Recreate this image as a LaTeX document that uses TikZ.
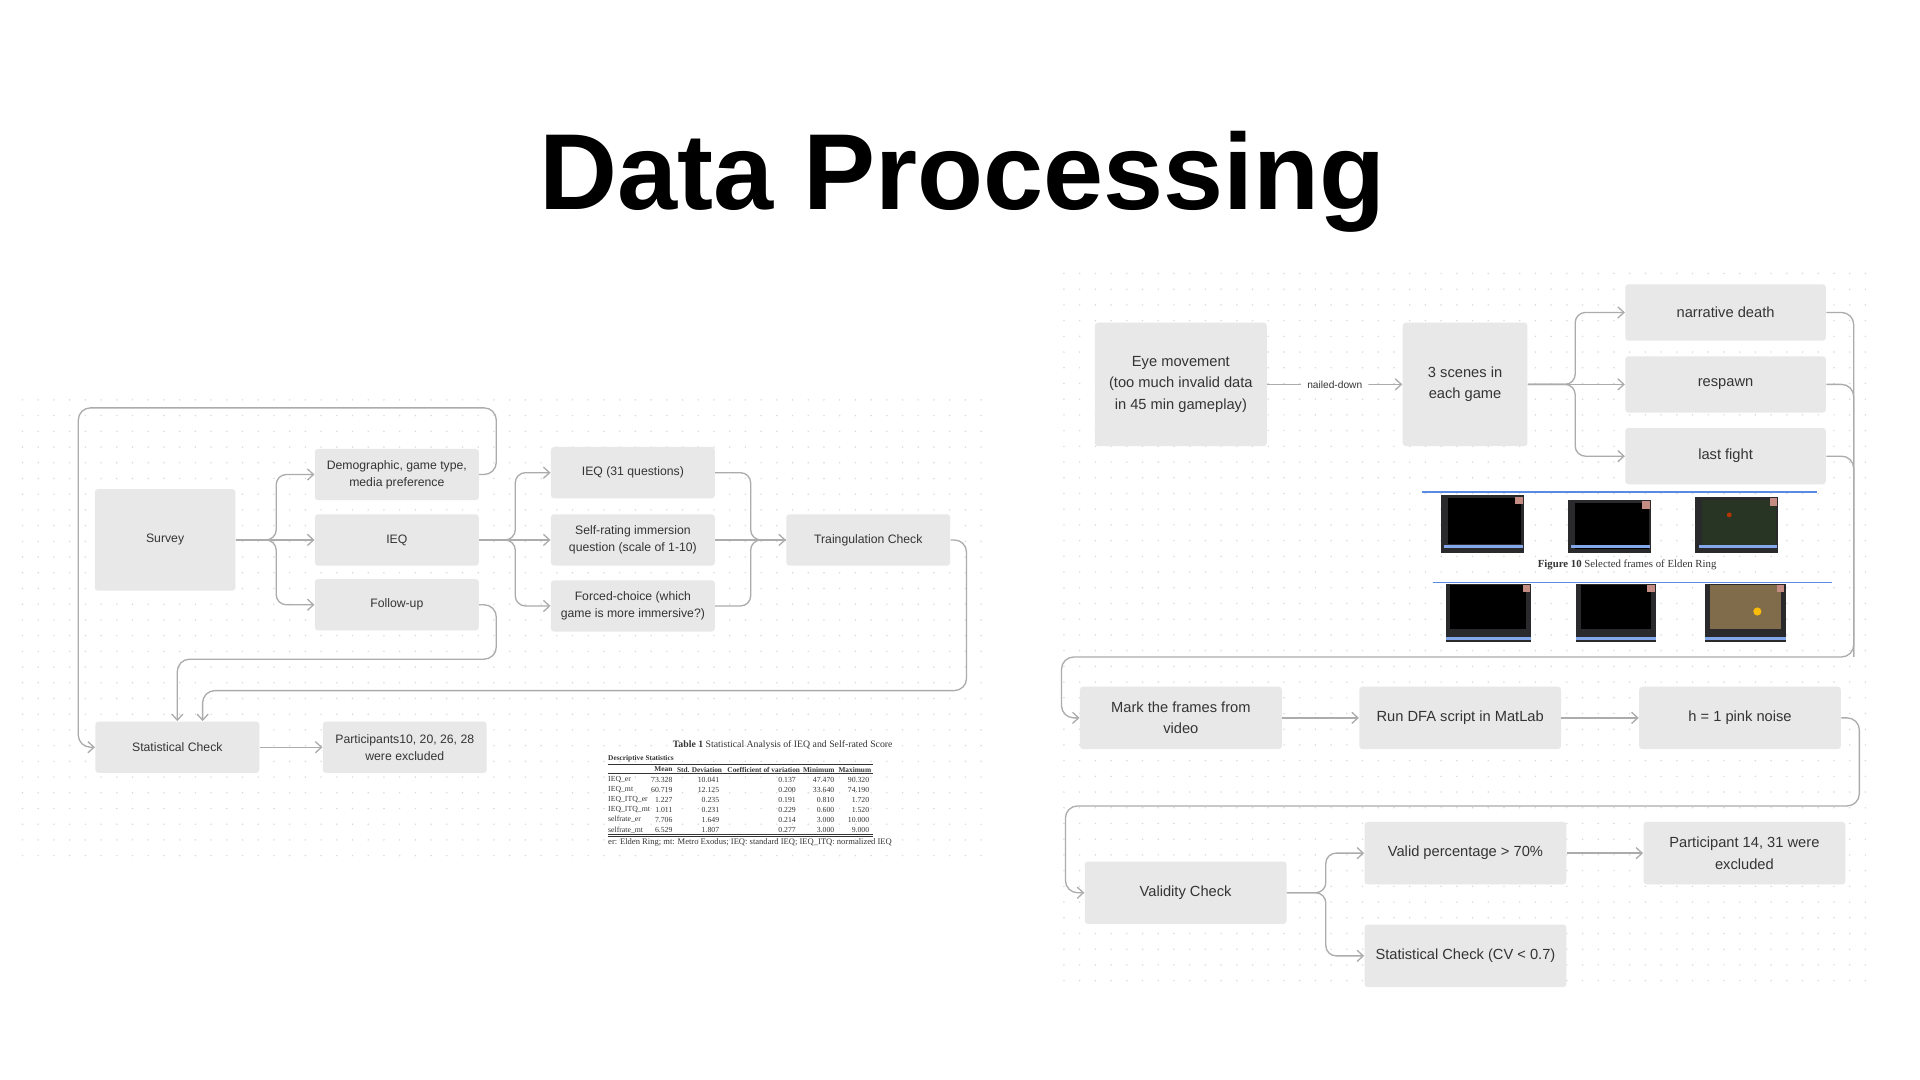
\documentclass[tikz,border=0pt]{standalone}
\usepackage{fontspec}
\setmainfont{Liberation Sans}
\newfontfamily\tabserif{Liberation Serif}
\usepackage{tikz}
\usetikzlibrary{arrows.meta,calc}
\definecolor{boxgray}{RGB}{232,232,232}
\definecolor{linegray}{RGB}{172,172,172}
\definecolor{dotgray}{RGB}{216,216,216}
\definecolor{txtgray}{RGB}{52,52,52}
\definecolor{framedark}{RGB}{42,42,44}
\definecolor{frameblue}{RGB}{88,138,228}
\definecolor{framemark}{RGB}{196,140,130}
\definecolor{eldengreen}{RGB}{40,52,36}
\definecolor{eldengold}{RGB}{128,108,74}

\begin{document}
\begin{tikzpicture}[x=0.6pt,y=-0.6pt,
    box/.style={fill=boxgray, rounded corners=1.5pt, inner sep=0pt, align=center, text=txtgray},
    leftbox/.style={box, minimum width=80.4pt, minimum height=25.2pt, font=\fontsize{6}{8.4}\selectfont},
    rightbox/.style={box, minimum width=99pt, minimum height=30.6pt, font=\fontsize{7.2}{10.5}\selectfont},
    scenebox/.style={rightbox, minimum width=98.4pt, minimum height=27.6pt},
    conn/.style={draw=linegray, line width=0.65pt, rounded corners=5pt, -{Straight Barb[length=3pt,width=5.5pt]}},
    link/.style={draw=linegray, line width=0.65pt, rounded corners=5pt},
    tabcell/.style={font=\tabserif\fontsize{3.8}{4}\selectfont, text=txtgray, inner sep=0pt},
    tabhead/.style={font=\tabserif\bfseries\fontsize{3.6}{4}\selectfont, text=txtgray, inner sep=0pt},
    tabrule/.style={draw=txtgray, line width=0.3pt}]

    \fill[white] (0,0) rectangle (1570,883.1);
    \useasboundingbox (0,0) rectangle (1570,883.1);

    % dotted canvas backgrounds
    \foreach \i in {0,...,61} {\foreach \j in {0,...,29} {\fill[dotgray] (18.4+12.85*\i,327+12.85*\j) circle (0.4pt);}}
    \foreach \i in {0,...,51} {\foreach \j in {0,...,45} {\fill[dotgray] (870+12.85*\i,223.6+12.85*\j) circle (0.4pt);}}

    % title
    \node[font=\fontsize{53}{60}\selectfont\bfseries, anchor=base, inner sep=0pt] (title) at (787,171) {Data Processing};

    % survey side
    \node[box, minimum width=69pt, minimum height=49.8pt, font=\fontsize{6}{8.4}\selectfont] (survey) at (135,441.5) {Survey};
    \node[leftbox] (demo) at (324.5,388) {Demographic, game type,\\media preference};
    \node[leftbox] (ieq) at (324.5,441.5) {IEQ};
    \node[leftbox] (follow) at (324.5,494.5) {Follow-up};
    \node[leftbox] (ieqq) at (517.5,386.5) {IEQ (31 questions)};
    \node[leftbox] (selfrate) at (517.5,441.5) {Self-rating immersion\\question (scale of 1-10)};
    \node[leftbox] (forced) at (517.5,495.5) {Forced-choice (which\\game is more immersive?)};
    \node[leftbox] (triang) at (710,441.5) {Traingulation Check};
    \node[leftbox] (stat) at (145,611) {Statistical Check};
    \node[leftbox] (excl) at (331,611) {Participants10, 20, 26, 28\\were excluded};

    \draw[conn] (survey.east) -- ++(33,0) |- (demo.west);
    \draw[conn] (survey) -- (ieq);
    \draw[conn] (survey.east) -- ++(33,0) |- (follow.west);
    \draw[conn] (ieq.east) -- ++(29.5,0) |- (ieqq.west);
    \draw[conn] (ieq) -- (selfrate);
    \draw[conn] (ieq.east) -- ++(29.5,0) |- (forced.west);
    \draw[link] (ieqq.east) -- ++(29,0) |- (triang.west);
    \draw[conn] (selfrate) -- (triang);
    \draw[link] (forced.east) -- ++(29,0) |- (triang.west);
    \draw[conn, rounded corners=6pt] (demo.east) -- ++(14,0) |- (64,333.5) |- (stat.west);
    \draw[conn, rounded corners=6pt] (follow.east) -- ++(14,0) |- (145,539) -- (stat.north);
    \draw[conn, rounded corners=6pt] (triang.east) -- ++(13,0) |- (165.7,564.7) -- ($(stat.north)+(20.7,0)$);
    \draw[conn] (stat) -- (excl);

    % table 1
    \node[tabcell, font=\tabserif\fontsize{4.8}{5}\selectfont] (tabcap) at (640,609.4) {\textbf{Table 1} Statistical Analysis of IEQ and Self-rated Score};
    \node[tabhead, anchor=west] (tabtitle) at (497,620.5) {Descriptive Statistics};
    \draw[tabrule] (497,625) -- (714,625);
    \node[tabhead] (hmean) at (542.5,629.3) {Mean};
    \node[tabhead] (hstd) at (572,629.3) {Std. Deviation};
    \node[tabhead] (hcv) at (624.5,629.3) {Coefficient of variation};
    \node[tabhead] (hmin) at (669.5,629.3) {Minimum};
    \node[tabhead] (hmax) at (699,629.3) {Maximum};
    \draw[tabrule] (497,632.6) -- (714,632.6);
    \foreach \lab/\mn/\sd/\cf/\mi/\ma [count=\rw from 0] in {IEQ\_er/73.328/10.041/0.137/47.470/90.320,
        IEQ\_mt/60.719/12.125/0.200/33.640/74.190,
        IEQ\_ITQ\_er/1.227/0.235/0.191/0.810/1.720,
        IEQ\_ITQ\_mt/1.011/0.231/0.229/0.600/1.520,
        selfrate\_er/7.706/1.649/0.214/3.000/10.000,
        selfrate\_mt/6.529/1.807/0.277/3.000/9.000} {
        \node[tabcell, anchor=west] (lab\rw) at (497,637.5+8.2*\rw) {\lab};
        \node[tabcell, anchor=east] (mean\rw) at (550.2,637.5+8.2*\rw) {\mn};
        \node[tabcell, anchor=east] (std\rw) at (588.4,637.5+8.2*\rw) {\sd};
        \node[tabcell, anchor=east] (cv\rw) at (651.1,637.5+8.2*\rw) {\cf};
        \node[tabcell, anchor=east] (min\rw) at (682.5,637.5+8.2*\rw) {\mi};
        \node[tabcell, anchor=east] (max\rw) at (711.1,637.5+8.2*\rw) {\ma};
    }
    \draw[tabrule] (497,682.6) -- (714,682.6);
    \draw[tabrule] (497,684.2) -- (714,684.2);
    \node[tabcell, font=\tabserif\fontsize{4.2}{5}\selectfont, anchor=west] (tabnote) at (497,689) {er: Elden Ring; mt: Metro Exodus; IEQ: standard IEQ; IEQ\_ITQ: normalized IEQ};

    % eye movement side
    \node[rightbox, minimum width=84.3pt, minimum height=60.6pt] (eye) at (965.6,314.3) {Eye movement\\(too much invalid data\\in 45 min gameplay)};
    \node[rightbox, minimum width=61.2pt, minimum height=60.6pt] (scenes) at (1198,314.3) {3 scenes in\\each game};
    \node[scenebox] (narr) at (1411,255.5) {narrative death};
    \node[scenebox] (respawn) at (1411,314.3) {respawn};
    \node[scenebox] (lastfight) at (1411,373) {last fight};
    \node[rightbox] (mark) at (965.6,587) {Mark the frames from\\video};
    \node[rightbox] (dfa) at (1194,587) {Run DFA script in MatLab};
    \node[rightbox] (pink) at (1422.8,587) {h = 1 pink noise};
    \node[rightbox] (validity) at (969.5,730) {Validity Check};
    \node[rightbox] (pct) at (1198.3,697.6) {Valid percentage > 70\%};
    \node[rightbox] (excl2) at (1426.4,697.6) {Participant 14, 31 were\\excluded};
    \node[rightbox] (cvcheck) at (1198.3,781.6) {Statistical Check (CV < 0.7)};

    % selected frames of Elden Ring
    \draw[frameblue, line width=0.8pt] (1163,402.5) -- (1486,402.5);
    \foreach \fx/\fy/\fc in {1178/405/black, 1282/409/black, 1386/406.5/eldengreen} {
        \fill[framedark] (\fx,\fy) rectangle ++(68,452-\fy);
        \fill[\fc] (\fx+6,\fy+2) rectangle ++(60,38);
        \fill[frameblue!75] (\fx+3,446) rectangle ++(64,1.8);
        \fill[framemark] (\fx+61,\fy+1) rectangle ++(6,6);
    }
    \fill[orange!60!red!70!black] (1414,421) circle (1.2pt);
    \node[tabcell, font=\tabserif\fontsize{5.3}{6}\selectfont] (figcap) at (1330.5,462) {\textbf{Figure 10} Selected frames of Elden Ring};
    \draw[frameblue, line width=0.8pt] (1171.5,476.4) -- (1498,476.4);
    \foreach \fx/\fw/\fc in {1182/70/black, 1289/65/black, 1394/66/eldengold} {
        \fill[framedark] (\fx,477.5) rectangle ++(\fw,47.5);
        \fill[\fc] (\fx+4,478) rectangle ++(\fw-8,36);
        \fill[frameblue!75] (\fx,521) rectangle ++(\fw,2.2);
        \fill[framemark] (\fx+\fw-7,478) rectangle ++(6,6);
    }
    \fill[yellow!50!orange] (1437,500) circle (2pt);

    \draw[conn] (eye) -- node[fill=white, inner xsep=3pt, inner ysep=1pt, font=\fontsize{5}{6}\selectfont, text=txtgray] (nailed) {nailed-down} (scenes);
    \draw[conn] (scenes.east) -- ++(38.7,0) |- (narr.west);
    \draw[conn] (scenes) -- (respawn);
    \draw[conn] (scenes.east) -- ++(38.7,0) |- (lastfight.west);
    \draw[conn, rounded corners=6pt] (narr.east) -| (1515.8,537.2) -- (868,537.2) |- (mark.west);
    \draw[link, rounded corners=6pt] (respawn.east) -| (1515.8,537.2);
    \draw[link, rounded corners=6pt] (lastfight.east) -| (1515.8,537.2);
    \draw[conn] (mark) -- (dfa);
    \draw[conn] (dfa) -- (pink);
    \draw[conn, rounded corners=6pt] (pink.east) -| (1520.4,659) -- (871.2,659) |- (validity.west);
    \draw[conn] (validity.east) -- ++(31.8,0) |- (pct.west);
    \draw[conn] (validity.east) -- ++(31.8,0) |- (cvcheck.west);
    \draw[conn] (pct) -- (excl2);
\end{tikzpicture}
\end{document}
